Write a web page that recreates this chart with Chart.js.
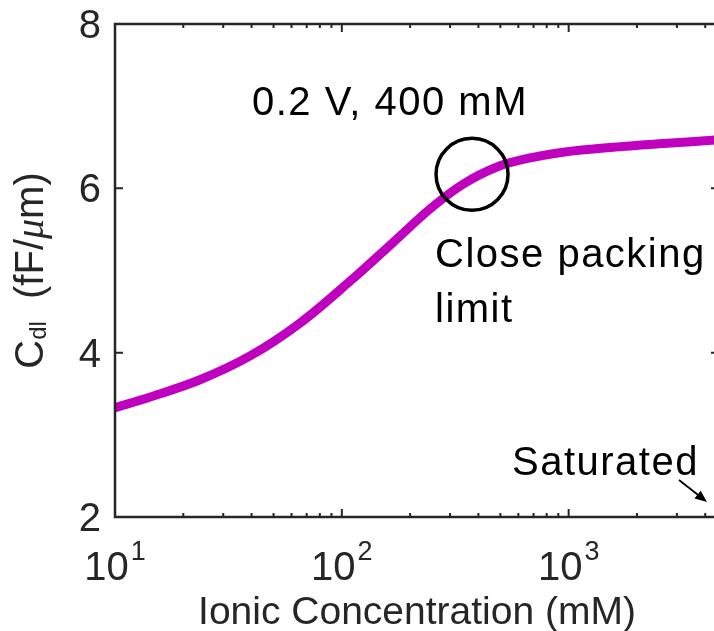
<!DOCTYPE html>
<html><head><meta charset="utf-8">
<script src="https://cdn.jsdelivr.net/npm/chart.js@4/dist/chart.umd.min.js"></script>
<style>html,body{margin:0;padding:0;overflow:hidden;background:#fff;width:714px;height:631px}canvas{display:block}</style>
</head><body>
<canvas id="c" width="724" height="631" style="width:724px;height:631px"></canvas>
<script>
// ---- data ----
const concentration = [10, 14.3, 23.7, 39.4, 65.4, 108.7, 168, 245, 342, 483, 676, 945, 1570, 2610, 4600];
const capacitance   = [3.33, 3.46, 3.67, 3.96, 4.36, 4.87, 5.34, 5.75, 6.05, 6.26, 6.37, 6.44, 6.50, 6.545, 6.59];
const yTicks = [2, 4, 6, 8];
const xMajorTicks = [10, 100, 1000];
const xTickExponents = ['1', '2', '3'];
const xMinorTicks = [20,30,40,50,60,70,80,90,200,300,400,500,600,700,800,900,2000,3000,4000];
const xRange = [10, 4600];
const yRange = [2, 8];
const xTitle = 'Ionic Concentration (mM)';
const noteTop = '0.2 V, 400 mM';
const noteClose = ['Close packing', 'limit'];
const noteSat = 'Saturated';
const circlePoint = [375, 6.17];

const AX = '#262626';
const FONT = '"Liberation Sans", Arial, Helvetica, sans-serif';

const frame = {
  id: 'frame',
  afterDatasetsDraw(chart) {
    const {ctx, chartArea: a, scales: {x, y}} = chart;
    ctx.save();
    ctx.strokeStyle = AX; ctx.lineWidth = 2.5;
    ctx.strokeRect(a.left, a.top, a.right - a.left, a.bottom - a.top);
    ctx.lineWidth = 2;
    ctx.beginPath();
    for (const v of yTicks) {
      const py = y.getPixelForValue(v);
      ctx.moveTo(a.left, py); ctx.lineTo(a.left + 8, py);
      ctx.moveTo(a.right, py); ctx.lineTo(a.right - 8, py);
    }
    for (const v of xMajorTicks) {
      const px = x.getPixelForValue(v);
      ctx.moveTo(px, a.bottom); ctx.lineTo(px, a.bottom - 8);
      ctx.moveTo(px, a.top); ctx.lineTo(px, a.top + 8);
    }
    for (const v of xMinorTicks) {
      const px = x.getPixelForValue(v);
      ctx.moveTo(px, a.bottom); ctx.lineTo(px, a.bottom - 4);
      ctx.moveTo(px, a.top); ctx.lineTo(px, a.top + 4);
    }
    ctx.stroke();

    ctx.fillStyle = AX;
    ctx.font = '40px ' + FONT;
    ctx.textAlign = 'right'; ctx.textBaseline = 'alphabetic';
    for (const v of yTicks) {
      ctx.fillText(String(v), a.left - 14, y.getPixelForValue(v) + 14);
    }
    xMajorTicks.forEach((v, i) => {
      const px = x.getPixelForValue(v);
      ctx.font = '40px ' + FONT;
      const wb = ctx.measureText('10').width;
      ctx.font = '27px ' + FONT;
      const we = ctx.measureText(xTickExponents[i]).width;
      const start = px - (wb + 2 + we) / 2;
      ctx.textAlign = 'left';
      ctx.font = '40px ' + FONT;
      ctx.fillText('10', start, 580);
      ctx.font = '27px ' + FONT;
      ctx.fillText(xTickExponents[i], start + wb + 2, 560);
    });
    ctx.font = '39px ' + FONT;
    ctx.textAlign = 'center';
    ctx.fillText(xTitle, (a.left + a.right) / 2, 624);

    const parts = [
      {t: 'C', f: '40px ' + FONT, dy: 0},
      {t: 'dl', f: '24px ' + FONT, dy: 3},
      {t: '  (fF/', f: '40px ' + FONT, dy: 0},
      {t: 'μ', f: 'italic 40px "Liberation Serif", serif', dy: 0},
      {t: 'm)', f: '40px ' + FONT, dy: 0}
    ];
    let total = 0;
    for (const p of parts) { ctx.font = p.f; p.w = ctx.measureText(p.t).width; total += p.w; }
    ctx.save();
    ctx.translate(43, (a.top + a.bottom) / 2);
    ctx.rotate(-Math.PI / 2);
    ctx.textAlign = 'left';
    let cx = -total / 2;
    for (const p of parts) { ctx.font = p.f; ctx.fillText(p.t, cx, p.dy); cx += p.w; }
    ctx.restore();
    ctx.restore();
  },
  afterDraw(chart) {
    const {ctx, scales: {x, y}} = chart;
    ctx.save();
    ctx.fillStyle = '#000'; ctx.strokeStyle = '#000';
    ctx.font = '40px ' + FONT;
    ctx.textAlign = 'left'; ctx.textBaseline = 'alphabetic';
    ctx.letterSpacing = '1.5px';
    ctx.fillText(noteTop, 252, 115);
    ctx.fillText(noteClose[0], 435, 267);
    ctx.fillText(noteClose[1], 435, 322);
    ctx.fillText(noteSat, 512, 475);
    const cxp = x.getPixelForValue(circlePoint[0]);
    const cyp = y.getPixelForValue(circlePoint[1]);
    ctx.lineWidth = 3.5;
    ctx.beginPath(); ctx.arc(cxp, cyp, 36, 0, Math.PI * 2); ctx.stroke();
    const x0 = 679, y0 = 480, x1 = 707, y1 = 502;
    const ang = Math.atan2(y1 - y0, x1 - x0);
    ctx.lineWidth = 1.8;
    ctx.beginPath(); ctx.moveTo(x0, y0); ctx.lineTo(x1 - 8 * Math.cos(ang), y1 - 8 * Math.sin(ang)); ctx.stroke();
    ctx.beginPath();
    ctx.moveTo(x1, y1);
    ctx.lineTo(x1 - 12 * Math.cos(ang) + 5 * Math.sin(ang), y1 - 12 * Math.sin(ang) - 5 * Math.cos(ang));
    ctx.lineTo(x1 - 12 * Math.cos(ang) - 5 * Math.sin(ang), y1 - 12 * Math.sin(ang) + 5 * Math.cos(ang));
    ctx.closePath(); ctx.fill();
    ctx.restore();
  }
};

new Chart(document.getElementById('c'), {
  type: 'line',
  data: {
    datasets: [{
      data: concentration.map((c, i) => ({x: c, y: capacitance[i]})),
      borderColor: 'rgb(191,0,191)',
      borderWidth: 9,
      pointRadius: 0,
      tension: 0.35,
      fill: false
    }]
  },
  options: {
    responsive: false,
    animation: false,
    devicePixelRatio: 1,
    layout: {padding: {left: 115, top: 24, right: 5, bottom: 114}},
    plugins: {legend: {display: false}, tooltip: {enabled: false}},
    scales: {
      x: {type: 'logarithmic', min: xRange[0], max: xRange[1], display: false},
      y: {type: 'linear', min: yRange[0], max: yRange[1], display: false}
    }
  },
  plugins: [frame]
});
</script>
</body></html>
